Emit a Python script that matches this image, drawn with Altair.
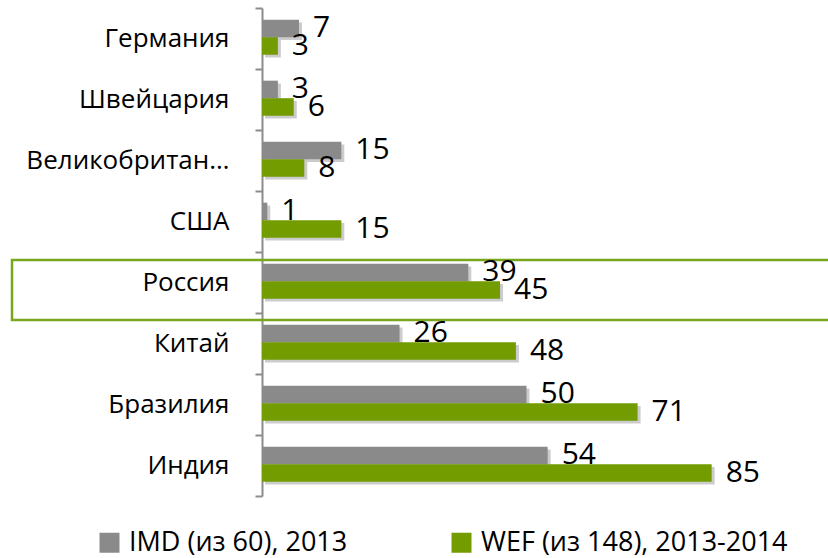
import altair as alt
import pandas as pd

categories = ["Германия", "Швейцария", "Великобритан…", "США", "Россия", "Китай", "Бразилия", "Индия"]
imd_values = [7, 3, 15, 1, 39, 26, 50, 54]
wef_values = [3, 6, 8, 15, 45, 48, 71, 85]
series_names = ["IMD (из 60), 2013", "WEF (из 148), 2013-2014"]
series_colors = ["#8a8a8a", "#739c00"]

rows = []
for c, a, b in zip(categories, imd_values, wef_values):
    rows.append({"country": c, "series": series_names[0], "value": a})
    rows.append({"country": c, "series": series_names[1], "value": b})
df = pd.DataFrame(rows)

FONT = "Open Sans"

y_scale = alt.Scale(paddingInner=0, paddingOuter=0)
y_enc = alt.Y(
    "country:N",
    sort=categories,
    title=None,
    scale=y_scale,
    axis=alt.Axis(
        labelFont=FONT, labelFontSize=26, labelColor="#000000",
        labelPadding=26, tickSize=7, tickWidth=2, tickColor="#8c8c8c",
        domainColor="#8c8c8c", domainWidth=2, tickBand="extent",
        labelLimit=260,
    ),
)
x_enc = alt.X("value:Q", scale=alt.Scale(domain=[0, 100]), axis=None)
yoff = alt.YOffset("series:N", sort=series_names,
                   scale=alt.Scale(paddingInner=0, paddingOuter=0.74, align=0.45))
yoff_shadow = alt.YOffset("series:N", sort=series_names,
                          scale=alt.Scale(paddingInner=0, paddingOuter=0.74, align=0.56))

base = alt.Chart(df)

highlight = alt.Chart(pd.DataFrame({"country": ["Россия"]})).mark_rect(
    fill=None, stroke="#7aa61e", strokeWidth=2.5
).encode(
    x=alt.value(-250), x2=alt.value(580),
    y=alt.value(252), y2=alt.value(312),
)

shadow = base.mark_bar(color="#000000", opacity=0.2, xOffset=3).encode(
    y=alt.Y("country:N", sort=categories), yOffset=yoff_shadow, x=x_enc,
)

bars = base.mark_bar().encode(
    y=y_enc, yOffset=yoff, x=x_enc,
    color=alt.Color(
        "series:N",
        scale=alt.Scale(domain=series_names, range=series_colors),
        legend=alt.Legend(
            title=None, orient="none", legendX=-166, legendY=521,
            direction="horizontal", symbolType="square", symbolSize=400,
            symbolStrokeWidth=0, labelFont=FONT, labelFontSize=27,
            labelColor="#000000", columnPadding=100, labelOffset=6,
            labelLimit=500,
        ),
    ),
)

labels = base.mark_text(
    align="left", baseline="middle", dx=14, font=FONT, fontSize=30, color="#000000"
).encode(
    y=alt.Y("country:N", sort=categories), yOffset=yoff, x=x_enc,
    text="value:Q",
)

front = alt.layer(bars, labels)
back = alt.layer(highlight, shadow)

chart = alt.layer(back, front).resolve_scale(
    yOffset="independent"
).properties(
    width=529, height=488,
    background="#ffffff",
    autosize=alt.AutoSizeParams(type="none"),
    padding={"left": 262, "top": 8, "right": 37, "bottom": 62},
).configure_view(stroke=None, strokeWidth=0)

chart.save("out.html", embed_options={"renderer": "svg", "actions": False})
